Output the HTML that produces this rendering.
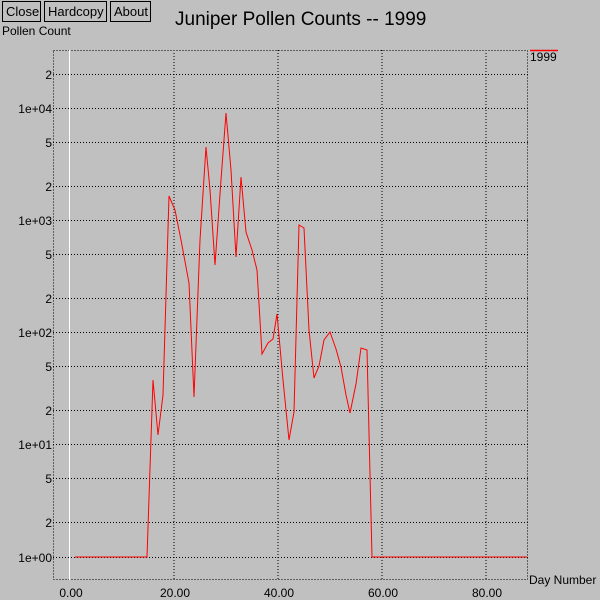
<!DOCTYPE html>
<html><head><style>
body{margin:0;background:#c0c0c0;}
svg{display:block;font-family:"Liberation Sans",sans-serif;}
</style></head><body>
<svg width="600" height="600" xmlns="http://www.w3.org/2000/svg">
<rect width="600" height="600" fill="#c0c0c0"/>
<g font-size="13" fill="#000">
<rect x="2.5" y="1.5" width="38" height="20" fill="none" stroke="#000"/>
<text x="6" y="16">Close</text>
<rect x="44.5" y="1.5" width="62" height="20" fill="none" stroke="#000"/>
<text x="48" y="16">Hardcopy</text>
<rect x="110.5" y="1.5" width="40" height="20" fill="none" stroke="#000"/>
<text x="114" y="16">About</text>
</g>
<text x="175" y="25" font-size="19">Juniper Pollen Counts -- 1999</text>
<text x="2" y="35" font-size="12">Pollen Count</text>
<g stroke="#000" stroke-dasharray="1,2" fill="none">
<rect x="53.5" y="50.5" width="474" height="529"/>
<line x1="174" y1="50" x2="174" y2="580"/>
<line x1="278" y1="50" x2="278" y2="580"/>
<line x1="382" y1="50" x2="382" y2="580"/>
<line x1="486" y1="50" x2="486" y2="580"/>
<line x1="53" y1="74.5" x2="528" y2="74.5"/>
<line x1="53" y1="108.5" x2="528" y2="108.5"/>
<line x1="53" y1="142.5" x2="528" y2="142.5"/>
<line x1="53" y1="186.5" x2="528" y2="186.5"/>
<line x1="53" y1="220.5" x2="528" y2="220.5"/>
<line x1="53" y1="254.5" x2="528" y2="254.5"/>
<line x1="53" y1="298.5" x2="528" y2="298.5"/>
<line x1="53" y1="332.5" x2="528" y2="332.5"/>
<line x1="53" y1="366.5" x2="528" y2="366.5"/>
<line x1="53" y1="410.5" x2="528" y2="410.5"/>
<line x1="53" y1="444.5" x2="528" y2="444.5"/>
<line x1="53" y1="478.5" x2="528" y2="478.5"/>
<line x1="53" y1="522.5" x2="528" y2="522.5"/>
<line x1="53" y1="557.5" x2="528" y2="557.5"/>
</g>
<line x1="69.5" y1="50" x2="69.5" y2="580" stroke="#fff"/>
<g font-size="12" text-anchor="end">
<text x="52" y="79">2</text>
<text x="52" y="113">1e+04</text>
<text x="52" y="147">5</text>
<text x="52" y="191">2</text>
<text x="52" y="225">1e+03</text>
<text x="52" y="259">5</text>
<text x="52" y="303">2</text>
<text x="52" y="337">1e+02</text>
<text x="52" y="371">5</text>
<text x="52" y="415">2</text>
<text x="52" y="449">1e+01</text>
<text x="52" y="483">5</text>
<text x="52" y="527">2</text>
<text x="52" y="562">1e+00</text>
</g>
<g font-size="12" text-anchor="middle">
<text x="71" y="597">0.00</text>
<text x="175" y="597">20.00</text>
<text x="279" y="597">40.00</text>
<text x="383" y="597">60.00</text>
<text x="487" y="597">80.00</text>
</g>
<text x="529" y="584" font-size="12">Day Number</text>
<line x1="530" y1="50.5" x2="558" y2="50.5" stroke="#f00" stroke-width="1.5"/>
<text x="530" y="61" font-size="12">1999</text>
<polyline fill="none" stroke="#f00" stroke-width="1" points="75,557 147,557 153,380 158,435 163,395 169,196 175,210 181,240 189,283 194,397 200,240 206,147 210,190 215,265 221,180 226,113 231,170 236,257 241,177 246,232 252,250 257,270 262,354 268,343 273,339 277,314 283,380 289,440 294,412 299,225 304,228 309,330 314,378 319,366 324,340 330,332 336,349 341,367 346,395 350,413 356,384 361,348 367,350 372,557 527,557"/>
</svg>
</body></html>
